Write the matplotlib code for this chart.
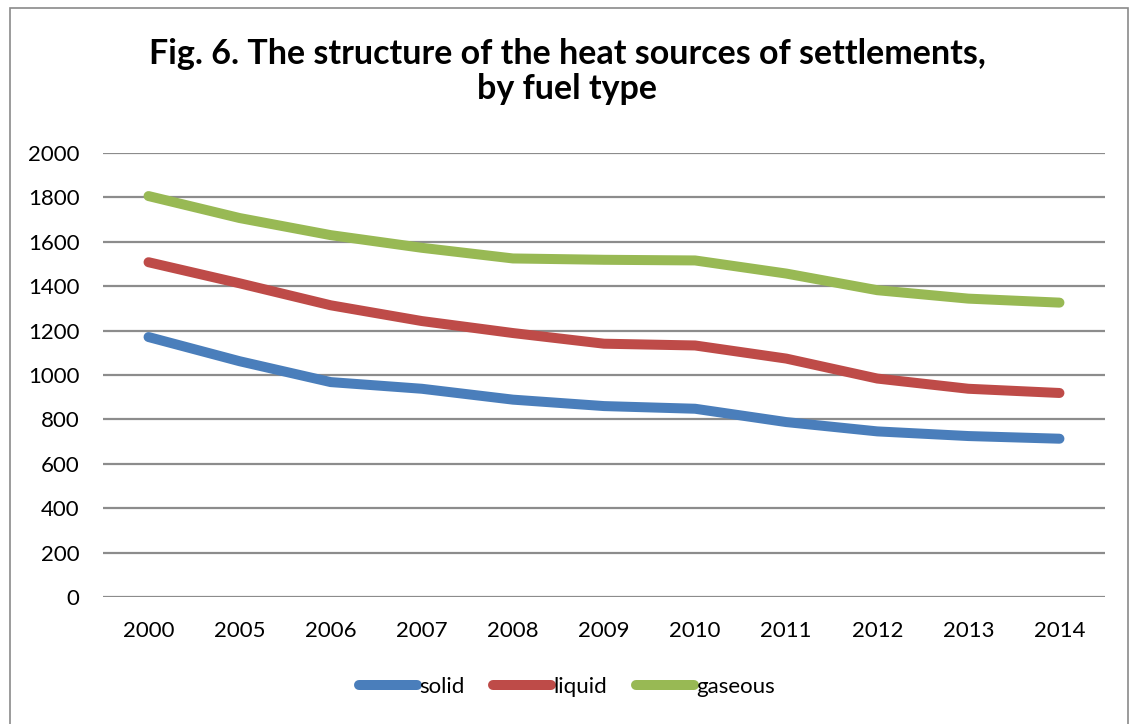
import matplotlib
matplotlib.use("Agg")
import matplotlib.pyplot as plt
from matplotlib.patches import Rectangle

years = ["2000", "2005", "2006", "2007", "2008", "2009", "2010", "2011", "2012", "2013", "2014"]
solid = [1171, 1062, 968, 938, 889, 860, 848, 788, 746, 725, 713]
liquid = [1508, 1413, 1314, 1243, 1189, 1141, 1133, 1074, 984, 938, 919]
gaseous = [1806, 1707, 1630, 1573, 1525, 1519, 1516, 1457, 1382, 1344, 1326]

plt.rcParams['font.family'] = ['Lato', 'DejaVu Sans']

fig = plt.figure(figsize=(11.34, 7.24), dpi=100)
ax = fig.add_axes([103/1134, 1 - 597/724, (1105-103)/1134, (597-153)/724])

x = range(len(years))
ax.plot(x, solid, color="#4A7EBB", lw=7.2, solid_capstyle="round", solid_joinstyle="round", label="solid")
ax.plot(x, liquid, color="#BE4B48", lw=7.2, solid_capstyle="round", solid_joinstyle="round", label="liquid")
ax.plot(x, gaseous, color="#98B954", lw=7.2, solid_capstyle="round", solid_joinstyle="round", label="gaseous")

ax.set_xlim(-0.5, len(years) - 0.5)
ax.set_ylim(0, 2000)
ax.set_yticks(range(0, 2001, 200))
ax.set_xticks(list(x))
ax.set_xticklabels(years)
ax.grid(axis='y', color="#8C8C8C", lw=1.6)
ax.set_axisbelow(True)
for s in ax.spines.values():
    s.set_visible(False)
ax.tick_params(length=0, labelsize=16, colors="black")
ax.tick_params(axis='y', pad=17)
ax.tick_params(axis='x', pad=17)

fig.text(0.5, 1 - 64/724, "Fig. 6. The structure of the heat sources of settlements,",
         ha="center", va="baseline", fontsize=24.5, fontweight="bold")
fig.text(0.5, 1 - 99/724, "by fuel type", ha="center", va="baseline", fontsize=24.5, fontweight="bold")

leg = fig.legend(loc="center", bbox_to_anchor=(0.5, 1 - 687/724), ncol=3, frameon=False,
                 fontsize=16, handlelength=2.6, handletextpad=0.1, columnspacing=1.3)

fig.patches.append(Rectangle((10/1134, -0.01), 1118/1134, 1 - 8/724 + 0.01, transform=fig.transFigure,
                             fill=False, edgecolor="#8A8A8A", lw=1.2))

fig.savefig("out.png", dpi=100)
